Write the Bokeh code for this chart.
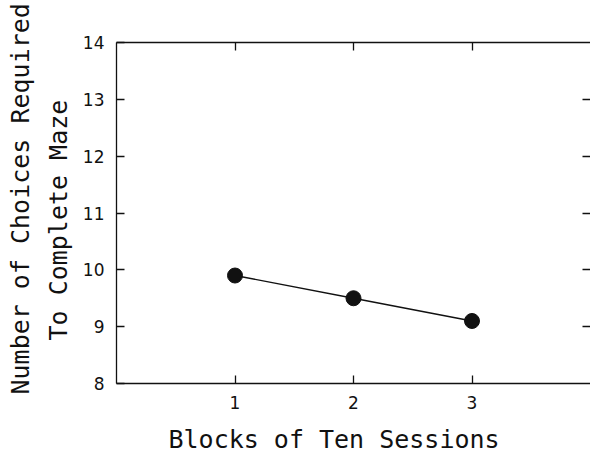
from bokeh.plotting import figure
from bokeh.models import LinearAxis, FixedTicker, Title, Range1d
from bokeh.embed import file_html
from bokeh.resources import INLINE

# Data
blocks = [1, 2, 3]
choices = [9.9, 9.5, 9.1]
x_ticks = [1, 2, 3]
y_ticks = [8, 9, 10, 11, 12, 13, 14]
x_title = "Blocks of Ten Sessions"
y_title_1 = "Number of Choices Required"
y_title_2 = "To Complete Maze"

FONT = "DejaVu Sans"
TFONT = "DejaVu Sans Mono"
INK = "#111111"

p = figure(frame_width=474, frame_height=341,
           x_range=Range1d(0, 4), y_range=Range1d(8, 14),
           output_backend="svg", toolbar_location=None,
           x_axis_location=None, y_axis_location=None,
           min_border_left=116, min_border_top=42, min_border_bottom=71,
           min_border_right=0)
p.outline_line_color = None
p.xgrid.visible = False
p.ygrid.visible = False
p.background_fill_color = "white"
p.border_fill_color = "white"

def style(ax, labels=True):
    ax.axis_line_color = INK
    ax.axis_line_width = 1.3
    ax.major_tick_line_color = INK
    ax.major_tick_line_width = 1.3
    ax.major_tick_in = 8
    ax.major_tick_out = 0
    ax.minor_tick_line_color = None
    ax.major_label_text_font = FONT
    ax.major_label_text_color = INK
    ax.major_label_text_font_size = "17px"
    if not labels:
        ax.major_label_overrides = {t: " " for t in ax.ticker.ticks}
        ax.major_label_standoff = 0

bottom = LinearAxis(ticker=FixedTicker(ticks=x_ticks))
style(bottom)
bottom.major_label_standoff = 12
p.add_layout(bottom, "below")

top = LinearAxis(ticker=FixedTicker(ticks=x_ticks))
style(top, labels=False)
p.add_layout(top, "above")

left = LinearAxis(ticker=FixedTicker(ticks=y_ticks))
style(left)
left.major_label_standoff = 12
p.add_layout(left, "left")

right = LinearAxis(ticker=FixedTicker(ticks=y_ticks[1:-1]))
style(right, labels=False)
right.axis_line_color = None
p.add_layout(right, "right")

p.line(blocks, choices, line_color=INK, line_width=1.4)
p.scatter(blocks, choices, size=15, fill_color=INK, line_color=INK)

# axis titles
def title(text, offset, standoff):
    return Title(text=text, align="left", offset=offset, standoff=standoff,
                 text_font=TFONT, text_font_size="25px", text_color=INK,
                 text_font_style="normal")

p.add_layout(title(x_title, 52, 22), "below")
p.add_layout(title(y_title_2, 43, 14), "left")
p.add_layout(title(y_title_1, -11, 0), "left")

open("out.html", "w").write(file_html(p, INLINE))
